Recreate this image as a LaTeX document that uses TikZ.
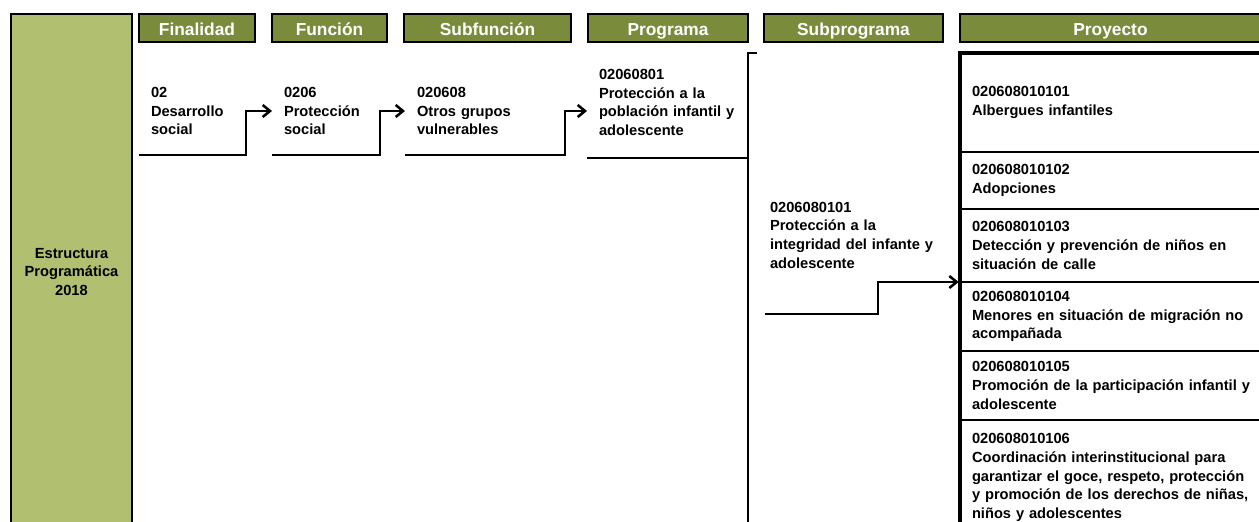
\documentclass[tikz,border=0pt]{standalone}
\usepackage{fontspec}
\setmainfont{Liberation Sans}
\usetikzlibrary{arrows.meta}
\definecolor{headgreen}{HTML}{7A8B3C}
\definecolor{panelgreen}{HTML}{B0C070}

\begin{document}
\begin{tikzpicture}[x=0.75pt, y=-0.75pt,
    head/.style={draw=black, line width=0.8pt, fill=headgreen, text=white,
      font=\fontsize{13}{15}\selectfont\bfseries, minimum height=21pt,
      inner sep=0pt, text height=11.5pt, text depth=1pt},
    panel/.style={draw=black, line width=0.8pt, fill=panelgreen, align=center,
      minimum width=90.75pt, minimum height=387pt,
      font=\fontsize{11}{14}\selectfont\bfseries},
    entry/.style={inner xsep=9pt, inner ysep=0pt, outer sep=0pt, align=left,
      font=\fontsize{11}{14}\selectfont\bfseries},
    projrow/.style={draw=black, line width=1.5pt, anchor=north west, outer sep=0pt,
      inner xsep=9pt, text width=208.5pt, align=left,
      font=\fontsize{11}{14}\selectfont\bfseries},
    link/.style={line width=1.9pt, -{Straight Barb[length=5.5pt, width=9pt]}},
    plainline/.style={line width=1.9pt},
    outerframe/.style={line width=2.3pt}]
  \clip (0, 0) rectangle (1259, 521);
  % left panel
  \node [panel] (estr) at (71.5, 272) {Estructura\\Programática\\2018};
  %
  % column heads
  \node [head, minimum width=87pt] (fin-h) at (197, 28) {Finalidad};
  \node [head, minimum width=86.25pt] (fun-h) at (329.5, 28) {Función};
  \node [head, minimum width=125.25pt] (sub-h) at (487.5, 28) {Subfunción};
  \node [head, minimum width=120pt] (prog-h) at (668, 28) {Programa};
  \node [head, minimum width=134.25pt] (subp-h) at (853.5, 28) {Subprograma};
  \node [head, minimum width=225.75pt] (proy-h) at (1110.5, 28) {Proyecto};
  %
  % entries
  \node [entry, text width=62.25pt, minimum height=66pt] (fin) at (192.5, 111) {02\\Desarrollo\\social};
  \node [entry, text width=63pt, minimum height=66pt] (fun) at (326, 111) {0206\\Protección\\social};
  \node [entry, text width=102pt, minimum height=66pt] (sub) at (485, 111) {020608\\Otros grupos\\vulnerables};
  \node [entry, text width=102.75pt, minimum height=83pt] (prog) at (667.5, 102.5) {02060801\\Protección a la\\población infantil y\\adolescente};
  \node [entry, inner xsep=3.75pt, text width=129.75pt, minimum height=118.5pt] (subp) at (856.5, 235) {0206080101\\Protección a la\\integridad del infante y\\adolescente};
  %
  % projects
  \node [projrow, minimum height=74.25pt] (proy1) at (960, 53) {020608010101\\Albergues infantiles};
  \node [projrow, minimum height=42.75pt] (proy2) at (proy1.south west) {020608010102\\Adopciones};
  \node [projrow, minimum height=54.75pt] (proy3) at (proy2.south west) {020608010103\\Detección y prevención de niños en\\situación de calle};
  \node [projrow, minimum height=51.75pt] (proy4) at (proy3.south west) {020608010104\\Menores en situación de migración no\\acompañada};
  \node [projrow, minimum height=51.75pt] (proy5) at (proy4.south west) {020608010105\\Promoción de la participación infantil y\\adolescente};
  \node [projrow, minimum height=86.25pt] (proy6) at (proy5.south west) {020608010106\\Coordinación interinstitucional para\\garantizar el goce, respeto, protección\\y promoción de los derechos de niñas,\\niños y adolescentes};
  \draw [outerframe] (proy1.north east) -- (proy1.north west) -- (proy6.south west);
  %
  % connectors
  \draw [link] (fin.south west) -- (fin.south east) |- (fun.west);
  \draw [link] (fun.south west) -- (fun.south east) |- (sub.west);
  \draw [link] (sub.south west) -- (sub.south east) |- (prog.west |- sub.west);
  \draw [plainline] (prog.south west) -- (prog.south east);
  %
  \coordinate (brk-top) at (757, 53);
  \coordinate (brk-bot) at (748, 530);
  \draw [plainline] (brk-top) -| (brk-bot);
  %
  \draw [link, shorten >=1pt] (subp.south west) -- ++(113, 0) |- (proy3.south west);
\end{tikzpicture}
\end{document}
